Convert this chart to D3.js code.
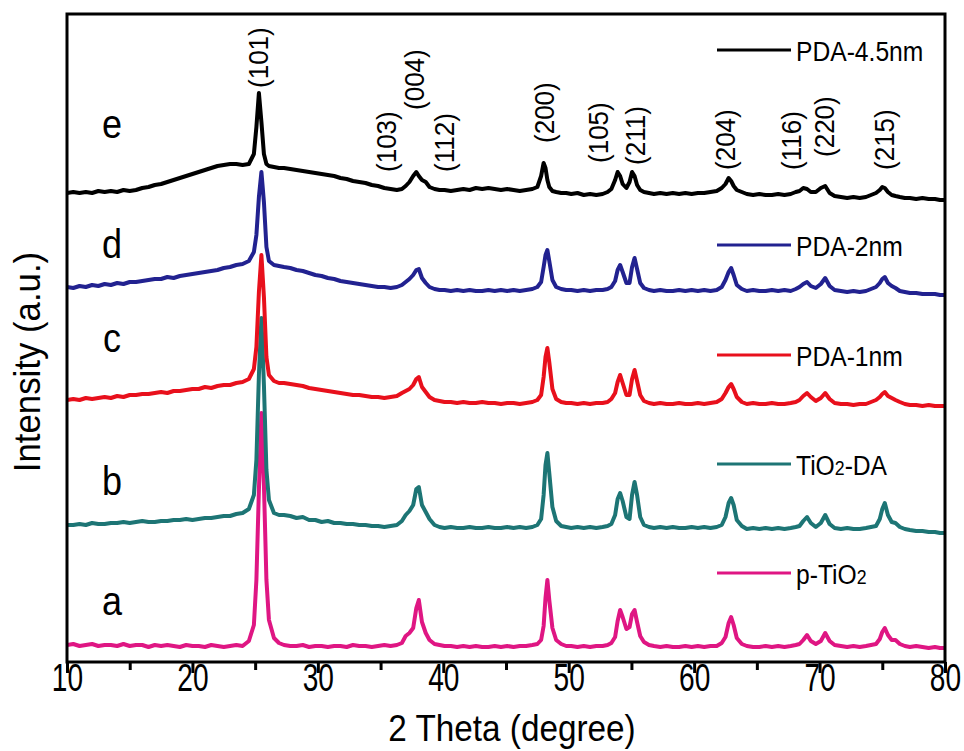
<!DOCTYPE html>
<html><head><meta charset="utf-8">
<script src="https://cdn.jsdelivr.net/npm/d3@7"></script>
<style>body{margin:0;background:#fff} text{font-family:"Liberation Sans",Arial,sans-serif;fill:#000}</style>
</head><body><svg id="chart" width="964" height="751"></svg>
<script>
// ---------- DATA ----------
const twoTheta = [
 10,10.5,11,11.5,12,12.5,13,13.5,14,14.5,15,15.5,16,16.5,17,17.5,18,18.5,19,19.5,20,20.5,21,21.5,22,22.5,23,23.5,24,
 24.5,24.9,25.1,25.3,25.5,25.7,25.9,26.1,26.5,26.9,
 27.3,27.8,28.3,28.8,29.3,29.8,30.3,30.8,31.3,31.8,32.3,32.8,33.3,33.8,34.3,34.8,35.3,35.8,36.3,36.7,
 37.0,37.3,37.6,37.85,38.05,38.3,38.6,38.9,39.3,39.7,
 40.1,40.6,41.1,41.6,42.1,42.6,43.1,43.6,44.1,44.6,45.1,45.6,46.1,46.6,47.1,
 47.5,47.8,48.0,48.15,48.3,48.45,48.7,49.0,49.4,49.8,
 50.2,50.7,51.2,51.7,52.2,52.7,53.1,
 53.4,53.7,53.9,54.1,54.3,54.6,54.85,55.05,55.25,55.45,55.7,56.0,56.4,
 56.8,57.3,57.8,58.3,58.8,59.3,59.8,60.3,60.8,61.3,61.8,
 62.2,62.5,62.75,62.95,63.15,63.4,63.8,
 64.2,64.7,65.2,65.7,66.2,66.7,67.2,67.7,68.1,
 68.4,68.7,69.0,69.3,69.7,70.1,70.45,70.8,71.2,
 71.7,72.2,72.7,73.2,73.7,74.1,
 74.5,74.8,75.0,75.2,75.45,75.75,76.05,76.4,76.8,
 77.2,77.7,78.2,78.7,79.2,79.6,80
];
const pTiO2 = [
 5,6,4,5,6,4,5,5,4,6,4,5,5,3,5,4,5,4,3,5,4,4,3,5,4,3,4,5,4,
 9,25,70,160,237,165,70,30,12,7,
 5,4,4,5,3,4,4,3,4,4,3,5,4,4,3,4,5,4,5,7,
 14,17,22,42,50,28,17,10,6,5,
 4,4,3,4,3,4,3,3,4,3,4,3,4,4,5,
 6,10,24,52,70,50,22,10,6,4,
 4,3,4,3,4,4,5,
 7,13,29,40,33,21,23,36,40,28,14,8,5,
 4,3,4,3,3,4,3,4,3,4,4,
 7,13,27,33,25,12,6,
 4,3,3,4,3,4,3,4,5,
 6,10,15,9,6,9,17,9,5,
 4,3,4,3,4,5,
 6,11,18,22,15,10,10,6,4,
 3,4,3,2,3,2,2
];
const tio2DA = [
 10,10,11,10,12,11,11,12,12,13,12,13,14,13,13,14,14,15,15,16,15,16,17,17,18,19,19,21,22,
 26,40,75,160,217,150,65,35,22,20,
 20,19,17,18,15,15,13,14,12,12,11,11,10,10,9,9,8,9,10,14,
 20,24,30,46,48,30,23,16,10,8,
 7,8,7,7,8,7,7,8,7,7,8,7,8,7,8,
 10,16,40,70,82,62,28,14,9,8,
 7,8,7,8,7,8,9,
 11,20,36,42,34,18,16,40,53,40,18,10,8,
 7,8,7,8,7,7,8,7,8,7,8,
 10,18,32,37,30,15,9,
 6,7,6,7,6,7,6,7,8,
 9,14,18,12,8,12,20,11,7,
 6,7,6,6,7,8,
 9,16,26,32,20,13,12,8,6,
 5,4,4,3,3,2,2
];
const pda1 = [
 7,8,7,9,8,9,10,9,11,10,12,12,13,13,14,15,14,16,16,17,18,18,20,19,21,22,22,24,25,
 28,38,60,115,152,110,50,32,26,24,
 24,23,22,21,19,18,17,16,15,14,13,12,12,11,10,10,9,10,11,14,
 16,18,22,28,30,20,15,10,7,6,
 5,5,4,5,4,4,5,4,4,3,4,4,3,4,5,
 7,12,30,50,59,45,18,8,5,4,
 4,3,4,3,4,4,5,
 8,14,25,32,24,12,12,28,37,26,12,6,4,
 3,4,3,3,4,3,3,4,3,4,5,
 8,14,20,23,18,10,5,
 3,4,3,3,4,3,3,4,5,
 7,11,14,10,6,9,14,8,4,
 3,3,2,3,3,5,
 7,10,13,15,11,9,7,5,3,
 2,2,1,2,1,1,1
];
const pda2 = [
 10,9,11,10,12,11,13,12,14,13,15,15,16,17,18,18,20,19,21,22,23,24,25,26,27,29,30,32,33,
 36,45,62,100,125,95,50,36,32,31,
 30,29,27,26,24,22,21,19,18,16,15,14,13,12,11,10,10,9,10,12,
 15,18,22,27,28,19,14,10,8,7,
 7,6,7,6,7,6,6,7,6,7,6,7,6,7,8,
 10,15,30,42,47,36,17,10,8,7,
 7,6,7,6,7,7,8,
 10,16,27,32,25,14,14,30,39,28,14,9,7,
 6,7,6,6,7,6,7,6,7,6,7,
 10,17,25,29,22,12,8,
 6,7,6,6,7,6,7,6,8,
 10,13,15,11,9,13,19,11,7,
 6,5,6,5,6,8,
 10,14,18,20,14,11,9,6,5,
 4,4,3,3,3,2,2
];
const pda45 = [
 9,10,9,10,9,11,10,11,10,12,11,12,14,15,17,18,20,22,24,26,28,30,32,34,36,37,38,38,37,
 38,48,75,109,80,48,38,36,35,34,
 34,33,32,31,30,29,28,27,26,24,23,21,20,19,17,16,14,13,12,13,
 16,20,26,30,26,22,20,15,13,12,
 12,11,12,13,12,14,13,14,13,12,13,12,11,12,13,
 15,26,39,34,22,15,11,10,9,9,
 8,9,7,8,7,8,10,
 13,22,30,26,18,14,20,30,26,17,12,10,9,
 8,9,8,9,8,9,8,9,9,10,11,
 14,18,24,21,16,12,10,
 8,7,8,7,7,8,7,8,10,
 11,14,13,10,10,14,16,9,6,
 5,4,5,4,5,7,
 9,12,15,14,10,7,6,5,4,
 4,3,4,3,3,2,2
];
const seriesNames   = ["p-TiO2", "TiO2-DA", "PDA-1nm", "PDA-2nm", "PDA-4.5nm"];
const seriesLetters = ["a", "b", "c", "d", "e"];
const seriesOffsets = [12, 127, 255, 365, 460];   // vertical stacking (a.u.)
const seriesValues  = [pTiO2, tio2DA, pda1, pda2, pda45];
const seriesColors  = ["#df1683", "#1d7575", "#e8101c", "#222290", "#000000"];

const peakLabels = ["(101)","(103)","(004)","(112)","(200)","(105)","(211)","(204)","(116)","(220)","(215)"];
const peakLabelX = [25.25, 35.5, 37.75, 40.15, 48.1, 52.4, 55.3, 62.5, 67.8, 70.4, 75.2];
const peakLabelY = [574, 490, 552, 490, 519, 499, 497, 492, 492, 505, 492];

const xMajorTicks = [10,20,30,40,50,60,70,80];
const xMinorTicks = [15,25,35,45,55,65,75];

// ---------- LAYOUT ----------
const svg = d3.select("#chart");
const L = 67, R = 945, T = 14, B = 662;
const x = d3.scaleLinear().domain([10, 80]).range([L, R]);
const y = d3.scaleLinear().domain([0, 648]).range([B, T]);

function sText(parent, px, py, str, size, sx, rot, anchor, baseline) {
  const g = parent.append("g")
    .attr("transform", `translate(${px},${py}) rotate(${rot||0}) scale(${sx},1)`);
  const t = g.append("text").attr("x", 0).attr("y", 0)
    .attr("font-size", size)
    .attr("text-anchor", anchor || "start");
  if (baseline) t.attr("dominant-baseline", baseline);
  const m = str.match(/^(.*TiO)(2)(.*)$/);
  if (m) {
    t.append("tspan").text(m[1]);
    t.append("tspan").attr("font-size", size * 0.72).text(m[2]);
    t.append("tspan").text(m[3]);
  } else t.text(str);
  return t;
}

svg.append("defs").append("clipPath").attr("id", "clip")
  .append("rect").attr("x", L).attr("y", T).attr("width", R - L).attr("height", B - T);

// curves
const n = Math.min(twoTheta.length, ...seriesValues.map(s => s.length));
const plot = svg.append("g").attr("clip-path", "url(#clip)");
seriesValues.forEach((vals, i) => {
  const pts = d3.range(n).map(k => [twoTheta[k], vals[k] + seriesOffsets[i]]);
  plot.append("path")
    .datum(pts)
    .attr("fill", "none")
    .attr("stroke", seriesColors[i])
    .attr("stroke-width", 4)
    .attr("stroke-linejoin", "round")
    .attr("d", d3.line().x(d => x(d[0])).y(d => y(d[1])));
});

// axes ticks
const axMajor = svg.append("g").attr("transform", `translate(0,${B})`)
  .call(d3.axisBottom(x).tickValues(xMajorTicks).tickSize(11).tickPadding(3).tickFormat(d3.format("d")));
axMajor.select(".domain").remove();
axMajor.selectAll("line").attr("stroke", "#000").attr("stroke-width", 3);
axMajor.selectAll("text")
  .attr("font-size", 38).attr("font-family", '"Liberation Sans",Arial,sans-serif')
  .attr("fill", "#000").attr("transform", "scale(0.74,1)").attr("dy", "0.74em").attr("y", 1);

const axMinor = svg.append("g").attr("transform", `translate(0,${B})`)
  .call(d3.axisBottom(x).tickValues(xMinorTicks).tickSize(8).tickFormat(""));
axMinor.select(".domain").remove();
axMinor.selectAll("line").attr("stroke", "#000").attr("stroke-width", 3);

// frame
svg.append("rect").attr("x", L).attr("y", T).attr("width", R - L).attr("height", B - T)
  .attr("fill", "none").attr("stroke", "#000").attr("stroke-width", 3);

// axis titles
sText(svg, (L + R) / 2 + 6, 741, "2 Theta (degree)", 37, 0.9, 0, "middle");
sText(svg, 40, 362, "Intensity (a.u.)", 37, 0.94, -90, "middle");

// peak labels
peakLabels.forEach((lab, i) => {
  sText(svg, x(peakLabelX[i]), y(peakLabelY[i]), lab, 28, 0.93, -90, "start", "central");
});

// series letters
const letterY = [615, 495, 352, 258, 138];
seriesLetters.forEach((l, i) => sText(svg, 112, letterY[i], l, 40, 0.9, 0, "middle"));

// legend
const legendY = [573, 464, 355, 245, 50];
seriesNames.forEach((name, i) => {
  svg.append("line").attr("x1", 717).attr("x2", 791)
    .attr("y1", legendY[i]).attr("y2", legendY[i])
    .attr("stroke", seriesColors[i]).attr("stroke-width", 3);
  sText(svg, 796, legendY[i] + 11, name, 28, 0.88, 0, "start");
});
</script></body></html>
